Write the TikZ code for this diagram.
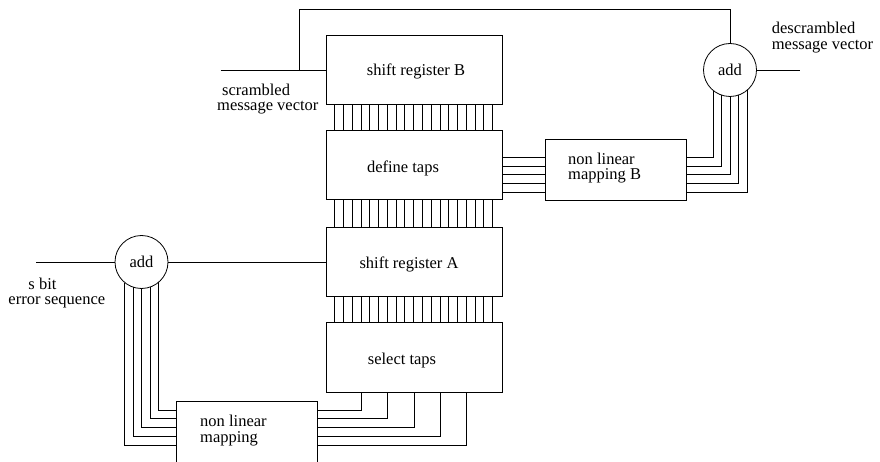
\documentclass[tikz,border=0pt]{standalone}
\usepackage{fontspec}
\setmainfont{Liberation Serif}
\newfontfamily\diagfont{Liberation Serif}
\begin{document}
\begin{tikzpicture}[x=1pt,y=-1pt,
  every node/.style={font=\diagfont\fontsize{16.5}{15.5}\selectfont, inner sep=0pt},
  wire/.style={line width=0.8pt},
  block/.style={draw, line width=0.8pt, minimum width=176pt, minimum height=69.5pt},
  adder/.style={draw, circle, line width=0.8pt, minimum size=53pt, outer sep=0pt},
  tag/.style={align=left, anchor=west}]
\useasboundingbox (0,0) rectangle (880,462);
\clip (0,0) rectangle (880,462);

% register and tap blocks
\node[block] (srB)   at (414,70)    {};
\node[block] (dtaps) at (414,165)   {};
\node[block] (srA)   at (414,262)   {};
\node[block] (staps) at (414,357.5) {};
\node[block, minimum width=141pt, minimum height=61.4pt] (nlmB) at (616.2,170) {};
\node[block, minimum width=140.6pt, minimum height=80pt] (nlm) at (247,441.7) {};

% adders
\node[adder] (addR) at (730,70) {add};
\node[adder] (addL) at (141.5,262) {add};

% block captions
\node (tSrB)   at (416,71)  {shift register B};
\node (tDtaps) at (403,168) {define taps};
\node (tSrA)   at (409,264) {shift register A};
\node (tStaps) at (402,361) {select taps};
\node[tag] (tNlmB) at (568,168.3) {non linear\\mapping B};
\node[tag] (tNlm)  at (200,430.8) {non linear\\mapping};

% signal labels
\node[tag] (lblScr) at (217,99)     {\hspace*{5pt}scrambled\\message vector};
\node[tag] (lblDes) at (771.7,37.5) {descrambled\\message vector};
\node[tag] (lblErr) at (8.3,293)    {\hspace*{20pt}s bit\\error sequence};

% free wire ends
\coordinate (sin)     at (220.7,70);
\coordinate (jB)      at (299,70);
\coordinate (loopTop) at (299,9);
\coordinate (dout)    at (800,70);
\coordinate (ein)     at (36,262);

\draw[wire] (sin) -- (srB.west);
\draw[wire] (jB) -- (loopTop) -| (addR.north);
\draw[wire] (addR.east) -- (dout);
\draw[wire] (ein) -- (addL.west);
\draw[wire] (addL.east) -- (srA.west);

% parallel tap buses between stacked blocks
\foreach \i [evaluate=\i as \dx using 9+\i*8.778] in {0,...,18} {
  \draw[wire] ([xshift=\dx]srB.south west)   -- ([xshift=\dx]dtaps.north west);
  \draw[wire] ([xshift=\dx]dtaps.south west) -- ([xshift=\dx]srA.north west);
  \draw[wire] ([xshift=\dx]srA.south west)   -- ([xshift=\dx]staps.north west);
}

% define taps -> non linear mapping B -> adder
\foreach \j/\a in {0/-129.9, 1/-108.7, 2/-90, 3/-71.3, 4/-50.1} {
  \pgfmathsetmacro\yy{157.3+\j*8.7}
  \draw[wire] (dtaps.east |- 0,\yy) -- (nlmB.west |- 0,\yy);
  \draw[wire] (nlmB.east |- 0,\yy) -| (addR.\a);
}

% select taps -> non linear mapping -> adder
\foreach \j/\dx/\a in {0/-52.5/-50.1, 1/-26.25/-71.3, 2/0/-90, 3/26.25/-108.7, 4/52.5/-129.9} {
  \pgfmathsetmacro\yy{410+\j*8.75}
  \draw[wire] ([xshift=\dx]staps.south) |- (nlm.east |- 0,\yy);
  \draw[wire] (nlm.west |- 0,\yy) -| (addL.\a);
}
\end{tikzpicture}
\end{document}
